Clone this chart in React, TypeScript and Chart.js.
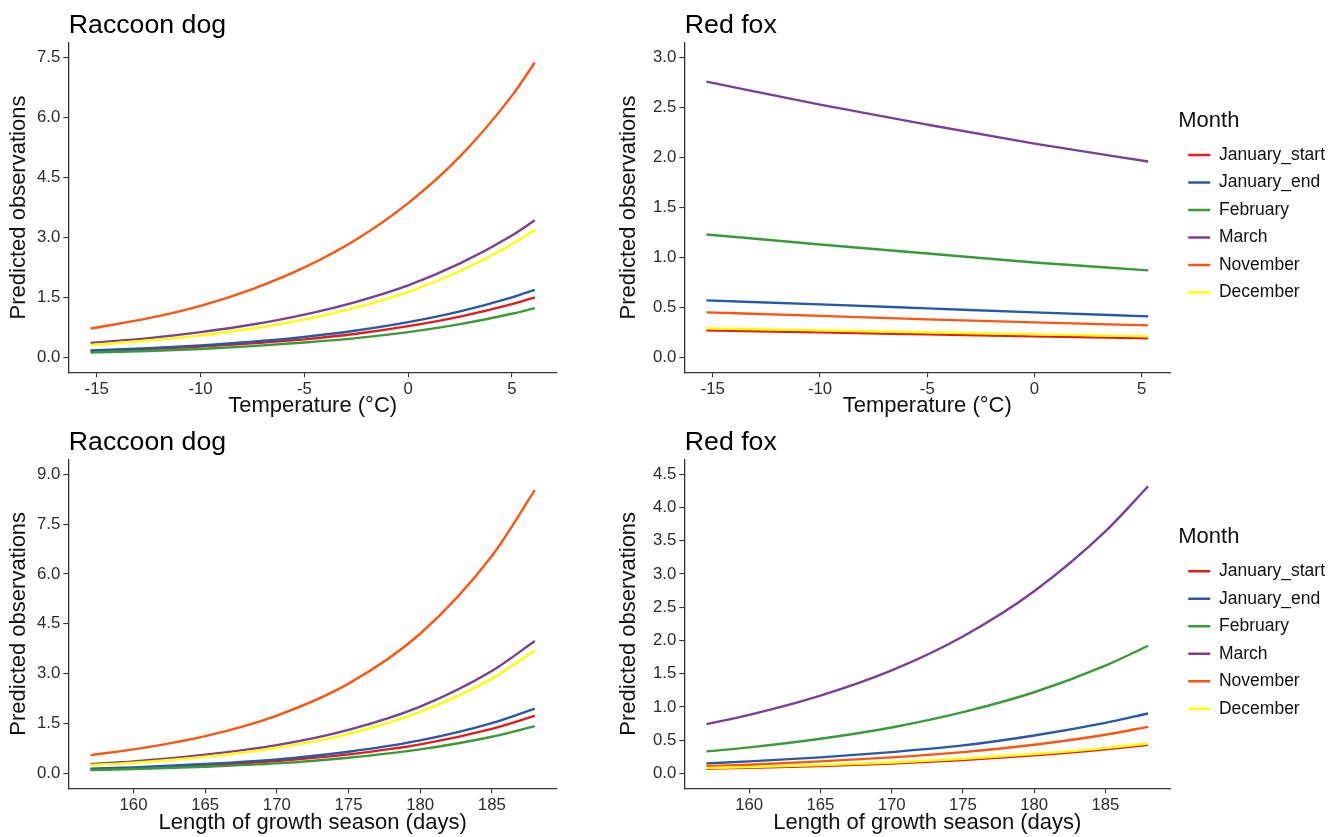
import React, { useEffect, useRef } from "react";
import { Chart, registerables } from "chart.js";

Chart.register(...registerables);

const FONT = "'Liberation Sans', Arial, Helvetica, sans-serif";
Chart.defaults.font.family = FONT;
Chart.defaults.color = "#222";

// ---- categories & colours ----
const MONTHS = ["January_start", "January_end", "February", "March", "November", "December"];
const MONTH_COLORS = ["#E41A1C", "#2659A8", "#3A9A37", "#7A3F96", "#FF5511", "#FFFF00"];

// ---- Raccoon dog vs temperature ----
const rdTempX = [-15.3, -12.5, -10, -7.5, -5, -2.5, 0, 2.5, 5, 6.1];
const rdTempJanuaryStart = [0.15, 0.2, 0.27, 0.35, 0.45, 0.59, 0.78, 1.02, 1.33, 1.5];
const rdTempJanuaryEnd = [0.17, 0.23, 0.3, 0.39, 0.51, 0.67, 0.88, 1.15, 1.5, 1.69];
const rdTempFebruary = [0.12, 0.16, 0.21, 0.28, 0.37, 0.48, 0.63, 0.83, 1.09, 1.23];
const rdTempMarch = [0.36, 0.48, 0.63, 0.82, 1.07, 1.39, 1.8, 2.35, 3.05, 3.43];
const rdTempNovember = [0.72, 0.98, 1.29, 1.71, 2.25, 2.95, 3.86, 5.03, 6.55, 7.38];
const rdTempDecember = [0.31, 0.42, 0.55, 0.72, 0.95, 1.25, 1.64, 2.16, 2.83, 3.19];

// ---- Red fox vs temperature ----
const rfTempX = [-15.3, -10, -5, 0, 5.3];
const rfTempJanuaryStart = [0.27, 0.25, 0.23, 0.21, 0.19];
const rfTempJanuaryEnd = [0.57, 0.53, 0.49, 0.45, 0.41];
const rfTempFebruary = [1.23, 1.13, 1.04, 0.95, 0.87];
const rfTempMarch = [2.76, 2.53, 2.33, 2.14, 1.96];
const rfTempNovember = [0.45, 0.415, 0.38, 0.35, 0.32];
const rfTempDecember = [0.29, 0.27, 0.25, 0.23, 0.21];

// ---- Raccoon dog vs growth season ----
const seasonX = [157, 160, 165, 170, 175, 180, 185, 188];
const rdSeasonJanuaryStart = [0.12, 0.155, 0.24, 0.37, 0.57, 0.87, 1.34, 1.73];
const rdSeasonJanuaryEnd = [0.14, 0.18, 0.28, 0.42, 0.65, 0.99, 1.51, 1.95];
const rdSeasonFebruary = [0.1, 0.13, 0.2, 0.3, 0.47, 0.72, 1.1, 1.42];
const rdSeasonMarch = [0.28, 0.36, 0.56, 0.85, 1.31, 2.01, 3.08, 3.98];
const rdSeasonNovember = [0.55, 0.72, 1.12, 1.74, 2.7, 4.2, 6.54, 8.52];
const rdSeasonDecember = [0.25, 0.32, 0.5, 0.77, 1.19, 1.85, 2.85, 3.7];

// ---- Red fox vs growth season ----
const rfSeasonJanuaryStart = [0.07, 0.083, 0.111, 0.149, 0.2, 0.27, 0.36, 0.43];
const rfSeasonJanuaryEnd = [0.15, 0.18, 0.24, 0.32, 0.42, 0.57, 0.76, 0.9];
const rfSeasonFebruary = [0.33, 0.39, 0.52, 0.69, 0.92, 1.22, 1.62, 1.92];
const rfSeasonMarch = [0.74, 0.88, 1.17, 1.55, 2.06, 2.74, 3.64, 4.32];
const rfSeasonNovember = [0.11, 0.13, 0.18, 0.24, 0.32, 0.43, 0.58, 0.7];
const rfSeasonDecember = [0.08, 0.094, 0.124, 0.164, 0.22, 0.29, 0.38, 0.45];

// ---- ticks & limits ----
const tempTicks = [-15, -10, -5, 0, 5];
const seasonTicks = [160, 165, 170, 175, 180, 185];
const rdTempYTicks = [0, 1.5, 3, 4.5, 6, 7.5];
const rfTempYTicks = [0, 0.5, 1, 1.5, 2, 2.5, 3];
const rdSeasonYTicks = [0, 1.5, 3, 4.5, 6, 7.5, 9];
const rfSeasonYTicks = [0, 0.5, 1, 1.5, 2, 2.5, 3, 3.5, 4, 4.5];

const TITLE_TEMP = "Temperature (°C)";
const TITLE_SEASON = "Length of growth season (days)";
const TITLE_Y = "Predicted observations";

type Panel = {
  title: string;
  xs: number[];
  series: number[][];
  xTicks: number[];
  yTicks: number[];
  xTitle: string;
  legend: boolean;
  box: { left: number; top: number; width: number; height: number };
  yAxisWidth: number;
  xAxisHeight: number;
  padTop: number;
  padRight: number;
  xTitlePadBottom: number;
};

const expand = (lo: number, hi: number) => {
  const d = (hi - lo) * 0.05;
  return [lo - d, hi + d];
};

const panelTitlePlugin = {
  id: "panelTitle",
  afterDraw(chart: any, _args: any, opts: any) {
    const { ctx, chartArea } = chart;
    ctx.save();
    ctx.font = `26.7px ${FONT}`;
    ctx.fillStyle = "#000";
    ctx.textAlign = "left";
    ctx.textBaseline = "alphabetic";
    ctx.fillText(opts.text, chartArea.left + 0.5, chartArea.top - 9.5);
    ctx.restore();
  },
};

// keeps the legend vertically centred on the panel and nudges it right
const legendShiftPlugin = {
  id: "legendShift",
  afterLayout(chart: any) {
    if (chart.legend && chart.options.plugins.legend.display) {
      chart.legend.left += 8;
      chart.legend.right += 8;
      chart.legend.top = chart.chartArea.top;
      chart.legend.bottom = chart.chartArea.bottom;
      chart.legend.height = chart.chartArea.bottom - chart.chartArea.top;
    }
  },
};

function buildConfig(p: Panel): any {
  const [xmin, xmax] = expand(p.xs[0], p.xs[p.xs.length - 1]);
  const [ymin, ymax] = expand(p.yTicks[0], p.yTicks[p.yTicks.length - 1]);
  const n = MONTHS.length;
  return {
    type: "line",
    data: {
      datasets: MONTHS.map((m, i) => ({
        label: m,
        data: p.xs.map((x, j) => ({ x, y: p.series[i][j] })),
        borderColor: MONTH_COLORS[i],
        backgroundColor: MONTH_COLORS[i],
        borderWidth: 2.4,
        pointRadius: 0,
        cubicInterpolationMode: "monotone",
        fill: false,
        order: n - i,
      })),
    },
    options: {
      animation: false,
      responsive: true,
      maintainAspectRatio: false,
      events: [],
      layout: { padding: { top: p.padTop, right: p.padRight, left: 0, bottom: 0 } },
      plugins: {
        tooltip: { enabled: false },
        panelTitle: { text: p.title },
        legend: {
          display: p.legend,
          position: "right",
          align: "center",
          labels: {
            usePointStyle: true,
            pointStyle: "line",
            pointStyleWidth: 22,
            padding: 10,
            color: "#111",
            font: { size: 17.5, family: FONT },
            sort: (a: any, b: any) => a.datasetIndex - b.datasetIndex,
          },
          title: {
            display: true,
            text: "Month",
            position: "start",
            color: "#111",
            font: { size: 22, family: FONT },
            padding: { top: 6, bottom: 0 },
          },
        },
      },
      scales: {
        x: {
          type: "linear",
          min: xmin,
          max: xmax,
          afterBuildTicks: (s: any) => {
            s.ticks = p.xTicks.map((v) => ({ value: v }));
          },
          afterFit: (s: any) => {
            s.height = p.xAxisHeight;
          },
          grid: { display: true, drawOnChartArea: false, drawTicks: true, tickLength: 5, color: "#333", lineWidth: 1.1 },
          border: { display: true, color: "#333", width: 1.3 },
          ticks: {
            color: "#2b2b2b",
            font: { size: 16.8, family: FONT },
            padding: 2,
            maxRotation: 0,
            autoSkip: false,
            callback: (v: any) => String(v),
          },
          title: {
            display: true,
            text: p.xTitle,
            color: "#111",
            font: { size: 22, family: FONT, lineHeight: 1.0 },
            padding: { top: 0, bottom: p.xTitlePadBottom },
          },
        },
        y: {
          type: "linear",
          min: ymin,
          max: ymax,
          afterBuildTicks: (s: any) => {
            s.ticks = p.yTicks.map((v) => ({ value: v }));
          },
          afterFit: (s: any) => {
            s.width = p.yAxisWidth;
          },
          grid: { display: true, drawOnChartArea: false, drawTicks: true, tickLength: 5, color: "#333", lineWidth: 1.1 },
          border: { display: true, color: "#333", width: 1.3 },
          ticks: {
            color: "#2b2b2b",
            font: { size: 16.8, family: FONT },
            padding: 3,
            autoSkip: false,
            callback: (v: any) => Number(v).toFixed(1),
          },
          title: {
            display: true,
            text: TITLE_Y,
            color: "#111",
            font: { size: 22, family: FONT, lineHeight: 1.15 },
            padding: { top: 6, bottom: 0 },
          },
        },
      },
    },
    plugins: [panelTitlePlugin, legendShiftPlugin],
  };
}

const PANELS: Panel[] = [
  {
    title: "Raccoon dog",
    xs: rdTempX,
    series: [rdTempJanuaryStart, rdTempJanuaryEnd, rdTempFebruary, rdTempMarch, rdTempNovember, rdTempDecember],
    xTicks: tempTicks,
    yTicks: rdTempYTicks,
    xTitle: TITLE_TEMP,
    legend: false,
    box: { left: 0, top: 0, width: 610, height: 417 },
    yAxisWidth: 68.3,
    xAxisHeight: 44.7,
    padTop: 42.7,
    padRight: 53,
    xTitlePadBottom: 0,
  },
  {
    title: "Red fox",
    xs: rfTempX,
    series: [rfTempJanuaryStart, rfTempJanuaryEnd, rfTempFebruary, rfTempMarch, rfTempNovember, rfTempDecember],
    xTicks: tempTicks,
    yTicks: rfTempYTicks,
    xTitle: TITLE_TEMP,
    legend: true,
    box: { left: 610, top: 0, width: 731, height: 417 },
    yAxisWidth: 74.3,
    xAxisHeight: 44.7,
    padTop: 42.7,
    padRight: 14,
    xTitlePadBottom: 0,
  },
  {
    title: "Raccoon dog",
    xs: seasonX,
    series: [rdSeasonJanuaryStart, rdSeasonJanuaryEnd, rdSeasonFebruary, rdSeasonMarch, rdSeasonNovember, rdSeasonDecember],
    xTicks: seasonTicks,
    yTicks: rdSeasonYTicks,
    xTitle: TITLE_SEASON,
    legend: false,
    box: { left: 0, top: 417, width: 610, height: 420 },
    yAxisWidth: 68.3,
    xAxisHeight: 48.7,
    padTop: 42.3,
    padRight: 53,
    xTitlePadBottom: 3.5,
  },
  {
    title: "Red fox",
    xs: seasonX,
    series: [rfSeasonJanuaryStart, rfSeasonJanuaryEnd, rfSeasonFebruary, rfSeasonMarch, rfSeasonNovember, rfSeasonDecember],
    xTicks: seasonTicks,
    yTicks: rfSeasonYTicks,
    xTitle: TITLE_SEASON,
    legend: true,
    box: { left: 610, top: 417, width: 731, height: 420 },
    yAxisWidth: 74.3,
    xAxisHeight: 48.7,
    padTop: 42.3,
    padRight: 14,
    xTitlePadBottom: 3.5,
  },
];

function PanelChart({ panel }: { panel: Panel }) {
  const ref = useRef<HTMLCanvasElement | null>(null);
  useEffect(() => {
    if (!ref.current) return;
    const chart = new Chart(ref.current, buildConfig(panel));
    return () => chart.destroy();
  }, [panel]);
  const b = panel.box;
  return (
    <div style={{ position: "absolute", left: b.left, top: b.top, width: b.width, height: b.height }}>
      <canvas ref={ref} />
    </div>
  );
}

export default function App() {
  return (
    <div style={{ position: "absolute", left: 0, top: 0, width: 1341, height: 837, background: "#fff", overflow: "hidden" }}>
      {PANELS.map((p, i) => (
        <PanelChart key={i} panel={p} />
      ))}
    </div>
  );
}
